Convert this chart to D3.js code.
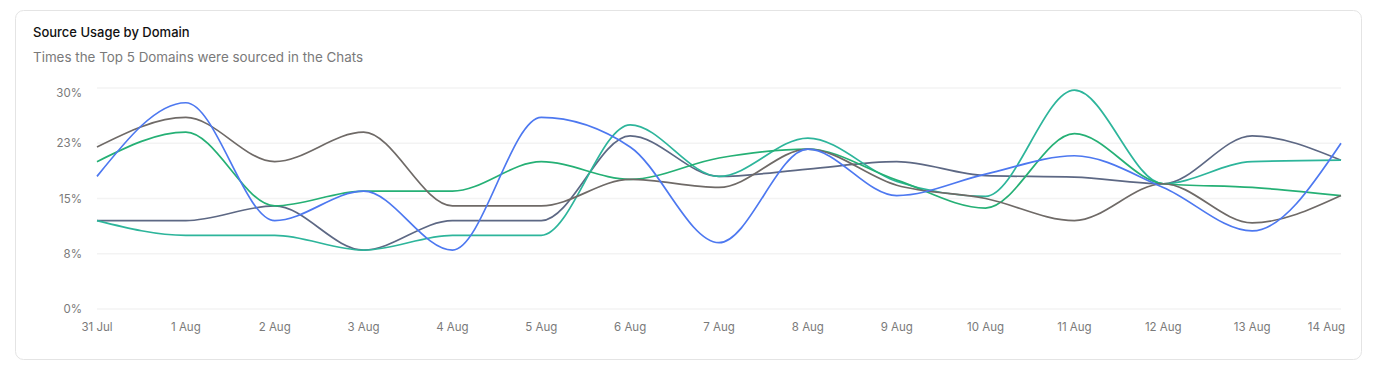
<!DOCTYPE html>
<html>
<head>
<meta charset="utf-8">
<script src="https://cdn.jsdelivr.net/npm/d3@7"></script>
<style>
  body { margin: 0; background: #fff; font-family: Inter, "Noto Sans", sans-serif; }
  svg { display: block; }
</style>
</head>
<body>
<svg id="chart" width="1375" height="373"></svg>
<script>
// data
var days = ["31 Jul", "1 Aug", "2 Aug", "3 Aug", "4 Aug", "5 Aug", "6 Aug", "7 Aug",
            "8 Aug", "9 Aug", "10 Aug", "11 Aug", "12 Aug", "13 Aug", "14 Aug"];
var yTicks = [0, 7.5, 15, 22.5, 30];

var blueVals  = [18, 28, 12, 16, 8, 26, 22, 9, 21.7, 15.4, 18.3, 20.8, 16.5, 10.6, 22.5];
var warmVals  = [22, 26, 20, 24, 14, 14, 17.6, 16.5, 21.7, 16.8, 15, 12, 17, 11.7, 15.4];
var greenVals = [20, 24, 14, 16, 16, 20, 17.6, 20.5, 21.7, 17.5, 13.7, 23.8, 17, 16.5, 15.4];
var slateVals = [12, 12, 14, 8, 12, 12, 23.5, 18, 19, 20, 18.1, 17.9, 17, 23.5, 20.2];
var tealVals  = [12, 10, 10, 8, 10, 10, 25, 18, 23.2, 17.3, 15.3, 29.7, 17, 20, 20.2];

var series = [
  {name: "slate", color: "#5d6884", values: slateVals},
  {name: "teal", color: "#2db59b", values: tealVals},
  {name: "green", color: "#25b075", values: greenVals},
  {name: "warm", color: "#6f6a67", values: warmVals},
  {name: "blue", color: "#4d78f0", values: blueVals}
];

var svg = d3.select("#chart");

// card
svg.append("rect")
  .attr("x", 15.5).attr("y", 10.5)
  .attr("width", 1346).attr("height", 349)
  .attr("rx", 8)
  .attr("fill", "#fff")
  .attr("stroke", "#e4e4e4");

svg.append("text")
  .attr("x", 33).attr("y", 37)
  .attr("font-size", 13).attr("font-weight", 500)
  .attr("fill", "#111")
  .text("Source Usage by Domain");

svg.append("text")
  .attr("x", 33).attr("y", 62)
  .attr("font-size", 13.4)
  .attr("fill", "#7a7a7a")
  .text("Times the Top 5 Domains were sourced in the Chats");

var x = d3.scalePoint().domain(days).range([97, 1341]);
var y = d3.scaleLinear().domain([0, 30]).range([309, 88]);

// grid
svg.append("g")
  .selectAll("line")
  .data(yTicks)
  .enter()
  .append("line")
  .attr("x1", 97).attr("x2", 1341)
  .attr("y1", function(d) { return y(d); })
  .attr("y2", function(d) { return y(d); })
  .attr("stroke", "#f3f3f3")
  .attr("stroke-width", 1.5);

// y labels (top one pushed down a bit so it isn't clipped)
svg.append("g")
  .selectAll("text")
  .data(yTicks)
  .enter()
  .append("text")
  .attr("x", 82)
  .attr("y", function(d, i) { return y(d) + 4 + (i === yTicks.length - 1 ? 5 : 0); })
  .attr("text-anchor", "end")
  .attr("font-size", 11.5)
  .attr("fill", "#7a7a7a")
  .text(function(d) { return Math.round(d) + "%"; });

// x labels
svg.append("g")
  .selectAll("text")
  .data(days)
  .enter()
  .append("text")
  .attr("x", function(d, i) { return i === days.length - 1 ? x(d) + 4 : x(d); })
  .attr("y", 331)
  .attr("text-anchor", function(d, i) { return i === days.length - 1 ? "end" : "middle"; })
  .attr("font-size", 11.5)
  .attr("fill", "#7a7a7a")
  .text(function(d) { return d; });

var line = d3.line()
  .x(function(d, i) { return x(days[i]); })
  .y(function(d) { return y(d); })
  .curve(d3.curveMonotoneX);

svg.append("g")
  .selectAll("path")
  .data(series)
  .enter()
  .append("path")
  .attr("d", function(d) { return line(d.values); })
  .attr("fill", "none")
  .attr("stroke", function(d) { return d.color; })
  .attr("stroke-width", 1.7);
</script>
</body>
</html>
